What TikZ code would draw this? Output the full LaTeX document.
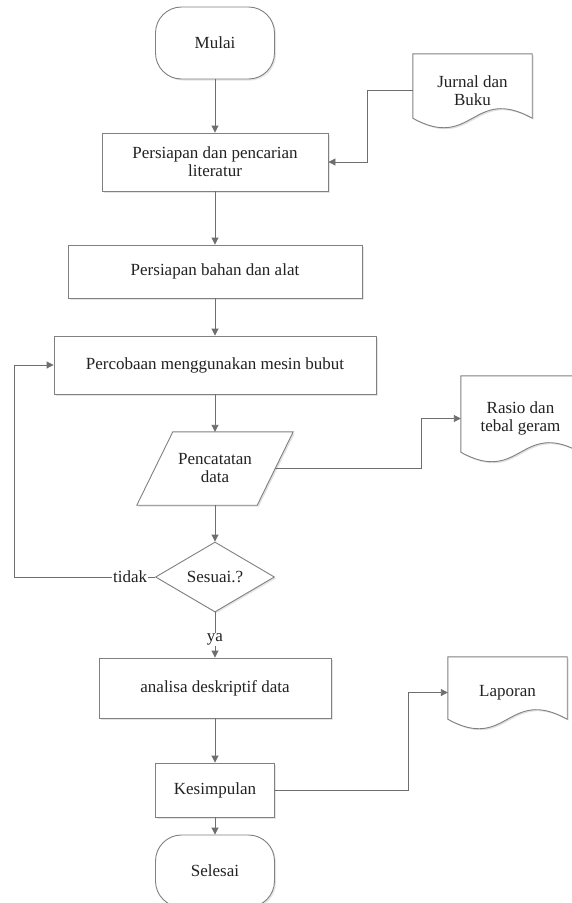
\documentclass[tikz,border=0pt]{standalone}
\usepackage{fontspec}
\setmainfont{Liberation Serif}
\usepackage{xcolor}
\usepackage{tikz}
\usetikzlibrary{positioning}
\usetikzlibrary{arrows.meta}
\usetikzlibrary{shapes.geometric}
\usetikzlibrary{shadows}
\pgfdeclarelayer{shapelayer}
\pgfdeclarelayer{nodelayer}
\pgfdeclarelayer{edgelayer}
\pgfsetlayers{shapelayer,nodelayer,edgelayer,main}
\definecolor{linegray}{HTML}{808080}
\definecolor{arrowgray}{HTML}{6E6E6E}
\definecolor{inkgray}{HTML}{222222}
\newcommand{\flowfont}{\fontsize{17}{18}\selectfont}
\newcommand{\docpath}[2]{([xshift=#2, yshift=-#2]#1.north west) -- ([xshift=#2, yshift=9pt-#2]#1.south west) .. controls ([xshift=59.5pt+#2, yshift=-24pt-#2]#1.south west) and ([xshift=-59.5pt+#2, yshift=42pt-#2]#1.south east) .. ([xshift=#2, yshift=9pt-#2]#1.south east) -- ([xshift=#2, yshift=-#2]#1.north east) -- cycle}
\tikzset{
    none/.style = {inner sep=0pt},
    txt/.style = {text=inkgray, font=\flowfont, align=center},
    box/.style = {txt, draw=linegray, line width=0.9pt, fill=white, inner sep=0pt, drop shadow={fill=black!40, opacity=0.25, shadow xshift=1.5pt, shadow yshift=-1.5pt}},
    terminal/.style = {box, rectangle, rounded corners=26pt, minimum width=119pt, minimum height=72pt},
    process/.style = {box, rectangle},
    decision/.style = {box, diamond, minimum width=119pt, minimum height=70pt},
    io/.style = {txt, inner sep=0pt, minimum width=120pt, minimum height=73pt},
    doc/.style = {txt, inner sep=0pt, minimum width=119pt},
    outline/.style = {draw=linegray, line width=0.9pt, fill=white},
    shadowfill/.style = {fill=black!12},
    flow/.style = {draw=arrowgray, line width=0.9pt, -{Triangle[length=7pt, width=7pt]}},
    edgetext/.style = {txt, fill=white, inner sep=1pt}
}
\begin{document}
\begin{tikzpicture}[x=1pt, y=-1pt]
  \useasboundingbox (0, 0) rectangle (571, 903);
  \begin{pgfonlayer}{nodelayer}
    \node [style=terminal] (0) at (215, 43) {Mulai};
    \node [style=doc, minimum height=73pt] (1) at (472.5, 90.5) {Jurnal dan\\Buku};
    \node [style=process, minimum width=226pt, minimum height=58pt] (2) at (215, 162) {Persiapan dan pencarian\\literatur};
    \node [style=process, minimum width=294pt, minimum height=53pt] (3) at (215, 271.5) {Persiapan bahan dan alat};
    \node [style=process, minimum width=322pt, minimum height=58pt] (4) at (215, 365) {Percobaan menggunakan mesin bubut};
    \node [style=io] (5) at (215, 468.5) {Pencatatan\\data};
    \node [style=doc, minimum height=85pt] (6) at (520.5, 418.5) {Rasio dan\\tebal geram};
    \node [style=decision] (7) at (215, 577) {Sesuai.?};
    \node [style=process, minimum width=232pt, minimum height=60pt] (8) at (215, 688) {analisa deskriptif data};
    \node [style=doc, minimum height=71pt] (9) at (507.5, 692.5) {Laporan};
    \node [style=process, minimum width=119pt, minimum height=54pt] (10) at (215, 790) {Kesimpulan};
    \node [style=terminal] (11) at (215, 871) {Selesai};
  \end{pgfonlayer}
  \begin{pgfonlayer}{shapelayer}
    \fill [white] (0, 0) rectangle (571, 903);
    \fill [style=shadowfill] ([xshift=19.5pt, yshift=-1.5pt]5.north west) -- ([xshift=19.5pt, yshift=-1.5pt]5.north east) -- ([xshift=-16.5pt, yshift=-1.5pt]5.south east) -- ([xshift=-16.5pt, yshift=-1.5pt]5.south west) -- cycle;
    \draw [style=outline] ([xshift=18pt]5.north west) -- ([xshift=18pt]5.north east) -- ([xshift=-18pt]5.south east) -- ([xshift=-18pt]5.south west) -- cycle;
    \foreach \n in {1, 6, 9} {
      \fill [style=shadowfill] \docpath{\n}{1.5pt};
      \draw [style=outline] \docpath{\n}{0pt};
    }
  \end{pgfonlayer}
  \begin{pgfonlayer}{edgelayer}
    \draw [style=flow] (0) -- (2);
    \draw [style=flow] (1.west) -- ++(-45, 0) |- (2.east);
    \draw [style=flow] (2) -- (3);
    \draw [style=flow] (3) -- (4);
    \draw [style=flow] (4) -- (5);
    \draw [style=flow] (5.east) -- ++(146, 0) |- (6.west);
    \draw [style=flow] (5) -- (7);
    \draw [style=flow] (7.west) -- node [style=edgetext, pos=0.177] {tidak} ++(-141, 0) |- (4.west);
    \draw [style=flow] (7) -- node [style=edgetext, pos=0.6] {ya} (8);
    \draw [style=flow] (8) -- (10);
    \draw [style=flow] (10.east) -- ++(133, 0) |- (9.west);
    \draw [style=flow] (10) -- (11);
  \end{pgfonlayer}
\end{tikzpicture}
\end{document}
